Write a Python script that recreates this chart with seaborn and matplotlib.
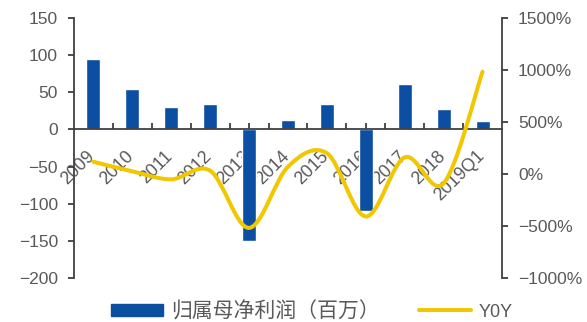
import numpy as np
import pandas as pd
import seaborn as sns
import matplotlib
matplotlib.use("Agg")
import matplotlib.pyplot as plt
from matplotlib.path import Path
from matplotlib.patches import PathPatch
from matplotlib.lines import Line2D
from matplotlib.ticker import FuncFormatter, MultipleLocator, FixedLocator
import matplotlib.transforms as mtransforms

# Net profit attributable to parent (million) and its YoY change (%)
periods = ["2009", "2010", "2011", "2012", "2013", "2014", "2015",
           "2016", "2017", "2018", "2019Q1"]
net_profit = [95, 54, 30, 35, -150, 13, 35, -110, 61, 27, 11]
yoy_pct = [117, 25, -52, 31, -520, 70, 200, -410, 160, -90, 985]

bar_label = "归属母净利润（百万）"
line_label = "Y0Y"

BAR_COLOR = "#0B4EA2"
LINE_COLOR = "#F2C700"
TEXT_COLOR = "#595959"
AXIS_COLOR = "#404040"

sns.set_theme(style="white")
plt.rcParams["font.family"] = ["Liberation Sans", "Noto Sans CJK SC"]
plt.rcParams["axes.unicode_minus"] = True

fig = plt.figure(figsize=(5.87, 3.22), dpi=100)
ax = fig.add_axes([74 / 587, 1 - 277.7 / 322, (502 - 74) / 587, (277.7 - 18.3) / 322])

df = pd.DataFrame({"period": periods, "profit": net_profit})
sns.barplot(data=df, x="period", y="profit", color=BAR_COLOR, width=0.36,
            saturation=1, ax=ax, zorder=2)
ax.set_xlim(-0.5, len(periods) - 0.5)
ax.set_ylim(-200, 150)
ax.yaxis.set_major_locator(MultipleLocator(50))
ax.set_xlabel("")
ax.set_ylabel("")

# Spines: left axis, x axis through zero
for side in ["top", "right"]:
    ax.spines[side].set_visible(False)
ax.spines["bottom"].set_position(("data", 0))
for side in ["left", "bottom"]:
    ax.spines[side].set_color(AXIS_COLOR)
    ax.spines[side].set_linewidth(1.3)

ax.tick_params(axis="y", direction="out", length=4.5, width=1.3, color=AXIS_COLOR,
               pad=7, labelsize=12.5, labelcolor=TEXT_COLOR, left=True)
ax.tick_params(axis="x", which="both", direction="in", length=4, width=1.3,
               color=AXIS_COLOR, bottom=True, labelsize=12.8, labelcolor=TEXT_COLOR, pad=13)
ax.xaxis.set_minor_locator(FixedLocator(np.arange(0.5, len(periods) - 1, 1.0)))

offset = mtransforms.ScaledTranslation(-7 / 100, 0, fig.dpi_scale_trans)
for lab in ax.get_xticklabels():
    lab.set_rotation(45)
    lab.set_ha("right")
    lab.set_va("top")
    lab.set_rotation_mode("anchor")
    lab.set_transform(lab.get_transform() + offset)

# Secondary axis for YoY
ax2 = ax.twinx()
ax2.set_ylim(-1000, 1500)
ax2.yaxis.set_major_locator(MultipleLocator(500))
ax2.yaxis.set_major_formatter(FuncFormatter(lambda v, _: f"{v:.0f}%".replace("-", "\u2212")))
for side in ["top", "left", "bottom"]:
    ax2.spines[side].set_visible(False)
ax2.spines["right"].set_color(AXIS_COLOR)
ax2.spines["right"].set_linewidth(1.3)
ax2.tick_params(axis="y", direction="out", length=4.5, width=1.3, color=AXIS_COLOR,
                pad=7, labelsize=12.5, labelcolor=TEXT_COLOR, right=True)
ax2.grid(False)
ax.grid(False)

# Smoothed YoY curve: cubic Bezier segments through each data point
xs = np.arange(len(periods), dtype=float)
ys = np.asarray(yoy_pct, dtype=float)
pts = np.column_stack([xs, ys])
ext = np.vstack([pts[0], pts, pts[-1]])
verts = [tuple(pts[0])]
codes = [Path.MOVETO]
for i in range(len(pts) - 1):
    p0, p1, p2, p3 = ext[i], ext[i + 1], ext[i + 2], ext[i + 3]
    c1 = p1 + (p2 - p0) / 6.0
    c2 = p2 - (p3 - p1) / 6.0
    verts += [tuple(c1), tuple(c2), tuple(p2)]
    codes += [Path.CURVE4, Path.CURVE4, Path.CURVE4]
curve = PathPatch(Path(verts, codes), facecolor="none", edgecolor=LINE_COLOR,
                  linewidth=2.9, capstyle="round", joinstyle="round", zorder=3)
ax2.add_patch(curve)

# Legend below the plot
handles = [plt.Rectangle((0, 0), 1, 1, color=BAR_COLOR),
           Line2D([0], [0], color=LINE_COLOR, linewidth=2.9)]
leg = fig.legend(handles, [bar_label, line_label], loc="center",
                 bbox_to_anchor=(312 / 587, 1 - 311 / 322), ncol=2, frameon=False,
                 handlelength=2.5, handleheight=0.5, handletextpad=0.35,
                 columnspacing=1.9, fontsize=15, borderpad=0.1)
for t in leg.get_texts():
    t.set_color(TEXT_COLOR)
leg.get_texts()[1].set_fontsize(13)

fig.savefig("out.png", dpi=100)
